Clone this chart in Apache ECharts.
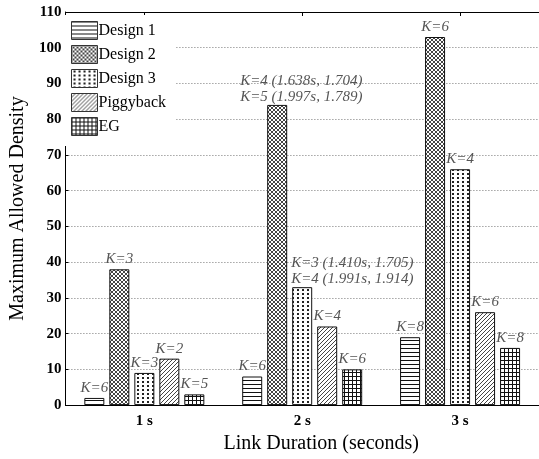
<!DOCTYPE html>
<html>
<head>
<meta charset="utf-8">
<script src="https://cdn.jsdelivr.net/npm/echarts@6/dist/echarts.min.js"></script>
<style>
  html, body { margin: 0; padding: 0; background: #fff; }
  #chart { width: 539px; height: 459px; }
</style>
</head>
<body>
<div id="chart"></div>
<script>
// Link durations (categories) and maximum allowed density per design
const categories = ['1 s', '2 s', '3 s'];
const seriesNames = ['Design 1', 'Design 2', 'Design 3', 'Piggyback', 'EG'];
const design1 = [2, 8, 19];
const design2 = [38, 84, 103];
const design3 = [9, 33, 66];
const piggyback = [13, 22, 26];
const eg = [3, 10, 16];

// Annotations above each bar
const design1K = ['K=6', 'K=6', 'K=8'];
const design2K = ['K=3', 'K=4 (1.638s, 1.704)\nK=5 (1.997s, 1.789)', 'K=6'];
const design3K = ['K=3', 'K=3 (1.410s, 1.705)\nK=4 (1.991s, 1.914)', 'K=4'];
const piggybackK = ['K=2', 'K=4', 'K=6'];
const egK = ['K=5', 'K=6', 'K=8'];

const yMin = 0, yMax = 110, yStep = 10;

const SERIF = '"Liberation Serif", "Times New Roman", serif';

// Small tiles used as fill patterns
function tile(w, h, draw) {
  const c = document.createElement('canvas');
  c.width = w; c.height = h;
  const g = c.getContext('2d');
  g.fillStyle = '#fff';
  g.fillRect(0, 0, w, h);
  draw(g);
  return { image: c, repeat: 'repeat' };
}
function px(g, col, pts) {
  g.fillStyle = col;
  pts.forEach(p => g.fillRect(p[0], p[1], p[2] || 1, p[3] || 1));
}
const patterns = [
  // horizontal stripes
  tile(4, 4, g => px(g, '#111', [[0, 0, 4, 1]])),
  // dense cross-hatch
  tile(4, 4, g => px(g, '#444', [[0, 0], [1, 1], [2, 2], [3, 3], [3, 0], [2, 1], [1, 2], [0, 3]])),
  // dots
  tile(5, 4, g => px(g, '#222', [[2, 1, 2, 2]])),
  // diagonal lines
  tile(4, 4, g => px(g, '#444', [[3, 0], [2, 1], [1, 2], [0, 3]])),
  // square grid
  tile(4, 4, g => px(g, '#111', [[0, 0, 4, 1], [0, 0, 1, 4]]))
];

const values = [design1, design2, design3, piggyback, eg];
const kLabels = [design1K, design2K, design3K, piggybackK, egK];

// Offsets of the two-line annotations (they start left of the bar centre)
const multiLineShift = { '1-1': -37, '2-1': -11 };

const series = values.map((vals, s) => ({
  name: seriesNames[s],
  type: 'bar',
  barWidth: 20,
  barGap: '25%',
  itemStyle: { color: patterns[s], borderColor: '#111', borderWidth: 1 },
  data: vals.map((v, i) => {
    const shift = multiLineShift[s + '-' + i];
    const lab = {
      show: true,
      position: 'top',
      distance: 2,
      formatter: kLabels[s][i],
      fontFamily: SERIF,
      fontStyle: 'italic',
      fontSize: 15,
      lineHeight: 16,
      color: '#555'
    };
    if (shift !== undefined) {
      lab.align = 'left';
      lab.offset = [shift, 0];
      lab.distance = 0;
    }
    return { value: v, label: lab };
  })
}));

const chart = echarts.init(document.getElementById('chart'), null, { renderer: 'canvas' });
chart.setOption({
  animation: false,
  backgroundColor: '#fff',
  grid: { left: 62, top: 12, width: 486, height: 403, containLabel: false },
  legend: {
    orient: 'vertical',
    left: 62,
    top: 15,
    padding: [6, 10, 10, 9],
    backgroundColor: '#fff',
    itemWidth: 26,
    itemHeight: 18,
    itemGap: 5,
    icon: 'rect',
    data: seriesNames,
    itemStyle: { borderWidth: 1, borderColor: '#333' },
    textStyle: { fontFamily: SERIF, fontSize: 16, color: '#000', padding: [0, 0, 0, -4] }
  },
  xAxis: [
    {
      type: 'category',
      data: categories,
      position: 'bottom',
      name: 'Link Duration (seconds)',
      nameLocation: 'middle',
      nameGap: 25,
      nameTextStyle: { fontFamily: SERIF, fontSize: 20, color: '#000', padding: [0, 0, 0, 38] },
      axisLine: { lineStyle: { color: '#000', width: 1 } },
      axisTick: { show: true, inside: true, length: 4, alignWithLabel: true, lineStyle: { color: '#000' } },
      axisLabel: { fontFamily: SERIF, fontSize: 15, fontWeight: 'bold', color: '#000', margin: 9 },
      splitLine: { show: false }
    },
    {
      type: 'category',
      data: categories,
      position: 'top',
      axisLine: { lineStyle: { color: '#000', width: 1 } },
      axisTick: { show: true, inside: true, length: 4, alignWithLabel: true, lineStyle: { color: '#000' } },
      axisLabel: { show: false },
      splitLine: { show: false }
    }
  ],
  yAxis: {
    type: 'value',
    min: yMin,
    max: yMax,
    interval: yStep,
    name: 'Maximum Allowed Density',
    nameLocation: 'middle',
    nameGap: 30,
    nameTextStyle: { fontFamily: SERIF, fontSize: 20, color: '#000' },
    axisLine: { show: true, lineStyle: { color: '#000', width: 1 } },
    axisTick: { show: true, inside: true, length: 3, lineStyle: { color: '#000' } },
    axisLabel: { fontFamily: SERIF, fontSize: 15, fontWeight: 'bold', color: '#000', margin: 4 },
    splitLine: { show: true, lineStyle: { color: '#777', width: 1, type: [1, 2] } }
  },
  series: series
});
</script>
</body>
</html>
